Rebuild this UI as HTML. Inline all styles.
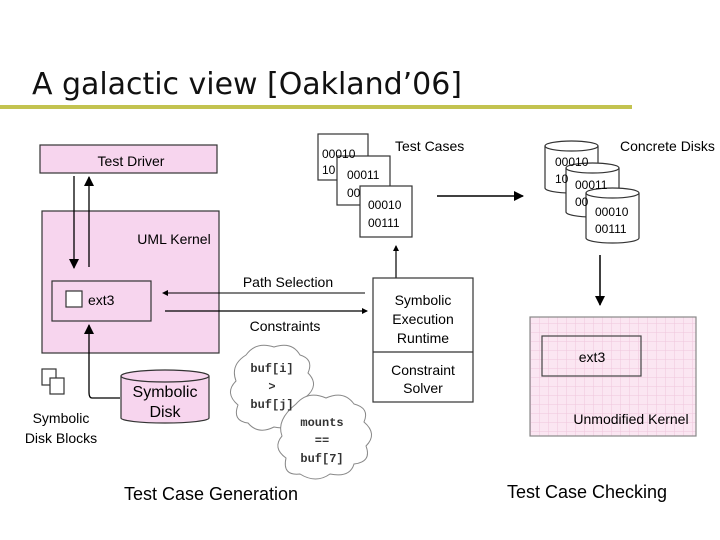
<!DOCTYPE html>
<html><head><meta charset="utf-8"><style>
html,body{margin:0;padding:0;background:#fff;}
svg{display:block;font-family:"Liberation Sans",sans-serif;}
</style></head><body>
<svg width="720" height="540" viewBox="0 0 720 540" xmlns="http://www.w3.org/2000/svg">
<defs>
<marker id="a" markerWidth="10" markerHeight="10" refX="9" refY="5" orient="auto" markerUnits="userSpaceOnUse"><path d="M0,0 L10,5 L0,10 z" fill="#000"/></marker>
<marker id="s" markerWidth="6" markerHeight="6" refX="5" refY="3" orient="auto" markerUnits="userSpaceOnUse"><path d="M0,0 L6,3 L0,6 z" fill="#000"/></marker>
<pattern id="g" width="9" height="9" patternUnits="userSpaceOnUse"><rect width="9" height="9" fill="#fbe6f2"/><path d="M9,0 V9 M0,9 H9" stroke="#efc6dc" stroke-width="1"/></pattern>
</defs>
<text x="32" y="94" font-family="'Comic Sans MS','DejaVu Sans',sans-serif" font-size="30" fill="#111" textLength="430">A galactic view [Oakland’06]</text>
<rect x="0" y="105" width="632" height="4" fill="#c3c350"/>

<g stroke="#333" stroke-width="1.2">
<rect x="40" y="145" width="177" height="28" fill="#f7d5ee"/>
<rect x="42" y="211" width="177" height="142" fill="#f7d5ee"/>
<rect x="52" y="281" width="99" height="40" fill="#f7d5ee"/>
<rect x="66" y="291" width="16" height="16" fill="#fff"/>
<rect x="42" y="369" width="14" height="16" fill="#fff"/>
<rect x="50" y="378" width="14" height="16" fill="#fff"/>
</g>
<text x="131" y="166" font-size="14" text-anchor="middle">Test Driver</text>
<text x="174" y="244" font-size="14" text-anchor="middle">UML Kernel</text>
<text x="88" y="305" font-size="14">ext3</text>
<line x1="74" y1="176" x2="74" y2="268" stroke="#000" stroke-width="1.3" marker-end="url(#a)"/>
<line x1="89" y1="267" x2="89" y2="177" stroke="#000" stroke-width="1.3" marker-end="url(#a)"/>
<path d="M120,398 L92,398 Q89,398 89,392 L89,325" fill="none" stroke="#000" stroke-width="1.3" marker-end="url(#a)"/>
<g stroke="#333" stroke-width="1.2" fill="#f7d5ee">
<path d="M121,376 L121,418 A44,5 0 0 0 209,418 L209,376"/>
<ellipse cx="165" cy="376" rx="44" ry="6"/>
</g>
<text x="165" y="397" font-size="16" text-anchor="middle">Symbolic</text>
<text x="165" y="417" font-size="16" text-anchor="middle">Disk</text>
<text x="61" y="423" font-size="14" text-anchor="middle">Symbolic</text>
<text x="61" y="443" font-size="14" text-anchor="middle">Disk Blocks</text>

<text x="288" y="287" font-size="14" text-anchor="middle">Path Selection</text>
<line x1="365" y1="293" x2="163" y2="293" stroke="#000" stroke-width="1" marker-end="url(#s)"/>
<line x1="165" y1="311" x2="367" y2="311" stroke="#000" stroke-width="1.2" marker-end="url(#s)"/>
<text x="285" y="331" font-size="14" text-anchor="middle">Constraints</text>

<g fill="#fff" stroke="#888" stroke-width="1">
<path d="M246,355 q10,-14 28,-8 q18,-6 26,8 q14,4 8,18 q12,12 -2,24 q8,16 -10,20 q-4,14 -22,10 q-16,8 -26,-4 q-16,-2 -10,-18 q-14,-12 -2,-24 q-6,-16 10,-26z"/>
<path d="M296,404 q12,-14 30,-6 q18,-8 28,6 q16,4 10,18 q14,12 2,24 q6,16 -12,18 q-4,14 -24,10 q-14,10 -30,0 q-18,2 -14,-16 q-14,-10 -4,-22 q-6,-16 14,-32z"/>
</g>
<g font-family="'Liberation Mono',monospace" font-size="12" text-anchor="middle" font-weight="bold" fill="#333">
<text x="272" y="372">buf[i]</text><text x="272" y="390">&gt;</text><text x="272" y="408">buf[j]</text>
<text x="322" y="426">mounts</text><text x="322" y="444">==</text><text x="322" y="462">buf[7]</text>
</g>

<g stroke="#333" stroke-width="1.2" fill="#fff">
<rect x="318" y="134" width="50" height="46"/>
<rect x="337" y="156" width="53" height="49"/>
<rect x="360" y="186" width="52" height="51"/>
</g>
<g font-size="12">
<text x="322" y="158">00010</text><text x="322" y="174">10</text>
<text x="347" y="179">00011</text><text x="347" y="197">00</text>
<text x="368" y="209">00010</text><text x="368" y="227">00111</text>
</g>
<text x="395" y="151" font-size="14">Test Cases</text>
<line x1="437" y1="196" x2="523" y2="196" stroke="#000" stroke-width="1.5" marker-end="url(#a)"/>
<line x1="396" y1="278" x2="396" y2="246" stroke="#000" stroke-width="1.2" marker-end="url(#s)"/>

<g stroke="#333" stroke-width="1.2" fill="#fff">
<rect x="373" y="278" width="100" height="124"/>
<line x1="373" y1="352" x2="473" y2="352"/>
</g>
<g font-size="14" text-anchor="middle">
<text x="423" y="305">Symbolic</text><text x="423" y="324">Execution</text><text x="423" y="343">Runtime</text>
<text x="423" y="375">Constraint</text><text x="423" y="393">Solver</text>
</g>

<g stroke="#333" stroke-width="1.2" fill="#fff">
<path d="M545,146 L545,188 A26.5,5 0 0 0 598,188 L598,146"/><ellipse cx="571.5" cy="146" rx="26.5" ry="5"/>
<path d="M566,168 L566,212 A26.5,5 0 0 0 619,212 L619,168"/><ellipse cx="592.5" cy="168" rx="26.5" ry="5"/>
<path d="M586,193 L586,238 A26.5,5 0 0 0 639,238 L639,193"/><ellipse cx="612.5" cy="193" rx="26.5" ry="5"/>
</g>
<g font-size="12">
<text x="555" y="166">00010</text><text x="555" y="183">10</text>
<text x="575" y="189">00011</text><text x="575" y="206">00</text>
<text x="595" y="216">00010</text><text x="595" y="233">00111</text>
</g>
<text x="620" y="151" font-size="14">Concrete Disks</text>
<line x1="600" y1="255" x2="600" y2="305" stroke="#000" stroke-width="1.5" marker-end="url(#a)"/>

<rect x="530" y="317" width="166" height="119" fill="url(#g)" stroke="#888" stroke-width="1.2"/>
<rect x="542" y="336" width="99" height="40" fill="none" stroke="#444" stroke-width="1.2"/>
<text x="592" y="362" font-size="14" text-anchor="middle">ext3</text>
<text x="631" y="424" font-size="14" text-anchor="middle">Unmodified Kernel</text>

<text x="211" y="500" font-size="18" text-anchor="middle">Test Case Generation</text>
<text x="587" y="498" font-size="18" text-anchor="middle">Test Case Checking</text>
</svg>
</body></html>
